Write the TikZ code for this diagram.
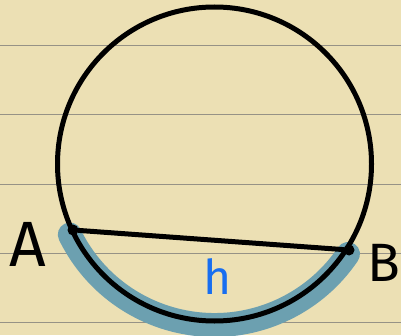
\documentclass[tikz,border=0pt]{standalone}
\usepackage{fontspec}
\newfontfamily\hand{Fira Sans}
\usepackage{tikz}
\usetikzlibrary{calc,positioning}
\definecolor{paper}{RGB}{236,224,180}
\definecolor{rulegray}{RGB}{150,146,134}
\definecolor{marker}{RGB}{108,160,176}
\definecolor{penblue}{RGB}{24,110,240}
\tikzset{
  rule/.style={
    line width = 1pt,
    draw = rulegray
  },
}
\tikzset{
  pen/.style={
    line width = 5pt,
    draw = black,
    line cap = round
  },
}
\tikzset{
  dot/.style={
    inner sep = 0pt,
    minimum size = 11pt,
    shape = circle,
    fill = black
  },
  hilite/.style={
    line width = 24pt,
    draw = marker,
    line cap = round
  },
  letter/.style={
    font = \hand\fontsize{64}{64}\selectfont,
    inner sep = 0pt
  },
  letterh/.style={
    font = \hand\fontsize{48}{48}\selectfont,
    text = penblue,
    inner sep = 0pt
  }
}

\begin{document}
\begin{tikzpicture}[x=1pt,y=1pt]
        \useasboundingbox (0,0) rectangle (401,335);
        \fill[paper] (0,0) rectangle (401,335);
        \foreach \yy in {13,82,151,220,289}
          \draw[rule] (0,\yy) -- (401,\yy);

        \def\R{157}
        \coordinate (O) at (214.5,171);

        % marked arc below the chord
        \draw[hilite] ([shift={(206:161)}]O) arc (206:326:161);

        \draw[pen] (O) circle (\R);

        \node[dot] (ptA) at (73,105) {};
        \node[dot] (ptB) at (349,85) {};
        \draw[pen] (ptA) -- (ptB);

        \node[letter] (labA) at (28,91) {A};
        \node[letter, font=\hand\fontsize{54}{54}\selectfont] (labB) at (384,72) {B};
        \node[letterh] (labh) at (218,58) {h};
    \end{tikzpicture}
\end{document}
